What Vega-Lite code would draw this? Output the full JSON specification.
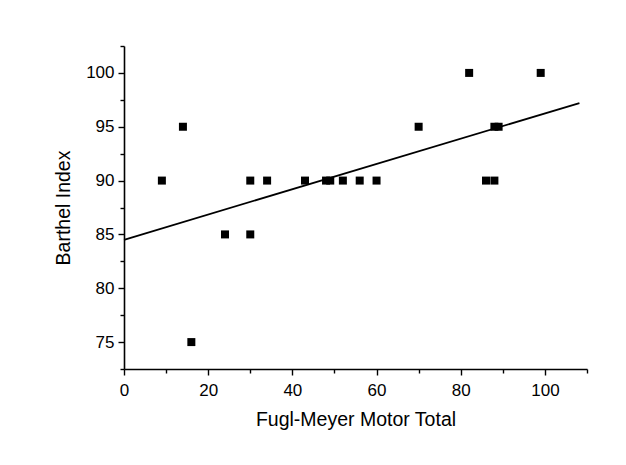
{
  "$schema": "https://vega.github.io/schema/vega-lite/v6.json",
  "width": 463,
  "height": 323,
  "autosize": {"type": "none"},
  "padding": {"left": 124, "top": 46, "right": 39, "bottom": 96},
  "background": "white",
  "config": {
    "view": {"stroke": null},
    "font": "Liberation Sans",
    "axis": {
      "domainColor": "black",
      "domainWidth": 1.6,
      "tickColor": "black",
      "tickWidth": 1.4,
      "grid": false,
      "labelColor": "black",
      "titleColor": "black",
      "labelFont": "Liberation Sans",
      "titleFont": "Liberation Sans",
      "labelFontSize": 17,
      "titleFontSize": 19.5,
      "titleFontWeight": "normal"
    }
  },
  "datasets": {
    "points": [
      {"fm": 9, "bi": 90},
      {"fm": 14, "bi": 95},
      {"fm": 16, "bi": 75},
      {"fm": 24, "bi": 85},
      {"fm": 30, "bi": 85},
      {"fm": 30, "bi": 90},
      {"fm": 34, "bi": 90},
      {"fm": 43, "bi": 90},
      {"fm": 48, "bi": 90},
      {"fm": 49, "bi": 90},
      {"fm": 52, "bi": 90},
      {"fm": 56, "bi": 90},
      {"fm": 60, "bi": 90},
      {"fm": 70, "bi": 95},
      {"fm": 82, "bi": 100},
      {"fm": 86, "bi": 90},
      {"fm": 88, "bi": 90},
      {"fm": 88, "bi": 95},
      {"fm": 89, "bi": 95},
      {"fm": 99, "bi": 100}
    ],
    "fit": [
      {"fm": 0, "bi": 84.5},
      {"fm": 108.2, "bi": 97.2}
    ]
  },
  "resolve": {"axis": {"x": "independent", "y": "independent"}},
  "layer": [
    {
      "data": {"name": "fit"},
      "mark": {"type": "line", "color": "black", "strokeWidth": 1.8, "clip": false},
      "encoding": {
        "x": {
          "field": "fm",
          "type": "quantitative",
          "scale": {"domain": [0, 110], "nice": false, "zero": false},
          "axis": {
            "orient": "bottom",
            "title": null,
            "values": [10, 30, 50, 70, 90, 110],
            "labels": false,
            "domain": false,
            "tickSize": 4
          }
        },
        "y": {
          "field": "bi",
          "type": "quantitative",
          "scale": {"domain": [72.5, 102.5], "nice": false, "zero": false},
          "axis": {
            "orient": "left",
            "title": null,
            "values": [72.5, 77.5, 82.5, 87.5, 92.5, 97.5, 102.5],
            "labels": false,
            "domain": false,
            "tickSize": 4
          }
        }
      }
    },
    {
      "data": {"name": "points"},
      "mark": {"type": "point", "shape": "square", "filled": true, "color": "black", "opacity": 1, "size": 64},
      "encoding": {
        "x": {
          "field": "fm",
          "type": "quantitative",
          "axis": {
            "orient": "bottom",
            "title": "Fugl-Meyer Motor Total",
            "values": [0, 20, 40, 60, 80, 100],
            "tickSize": 6,
            "labelPadding": 7,
            "titlePadding": 12,
            "labelFlush": false,
            "labelOverlap": false
          }
        },
        "y": {
          "field": "bi",
          "type": "quantitative",
          "axis": {
            "orient": "left",
            "title": "Barthel Index",
            "values": [75, 80, 85, 90, 95, 100],
            "tickSize": 6,
            "labelPadding": 4,
            "titlePadding": 12,
            "labelFlush": false,
            "labelOverlap": false
          }
        }
      }
    }
  ]
}
